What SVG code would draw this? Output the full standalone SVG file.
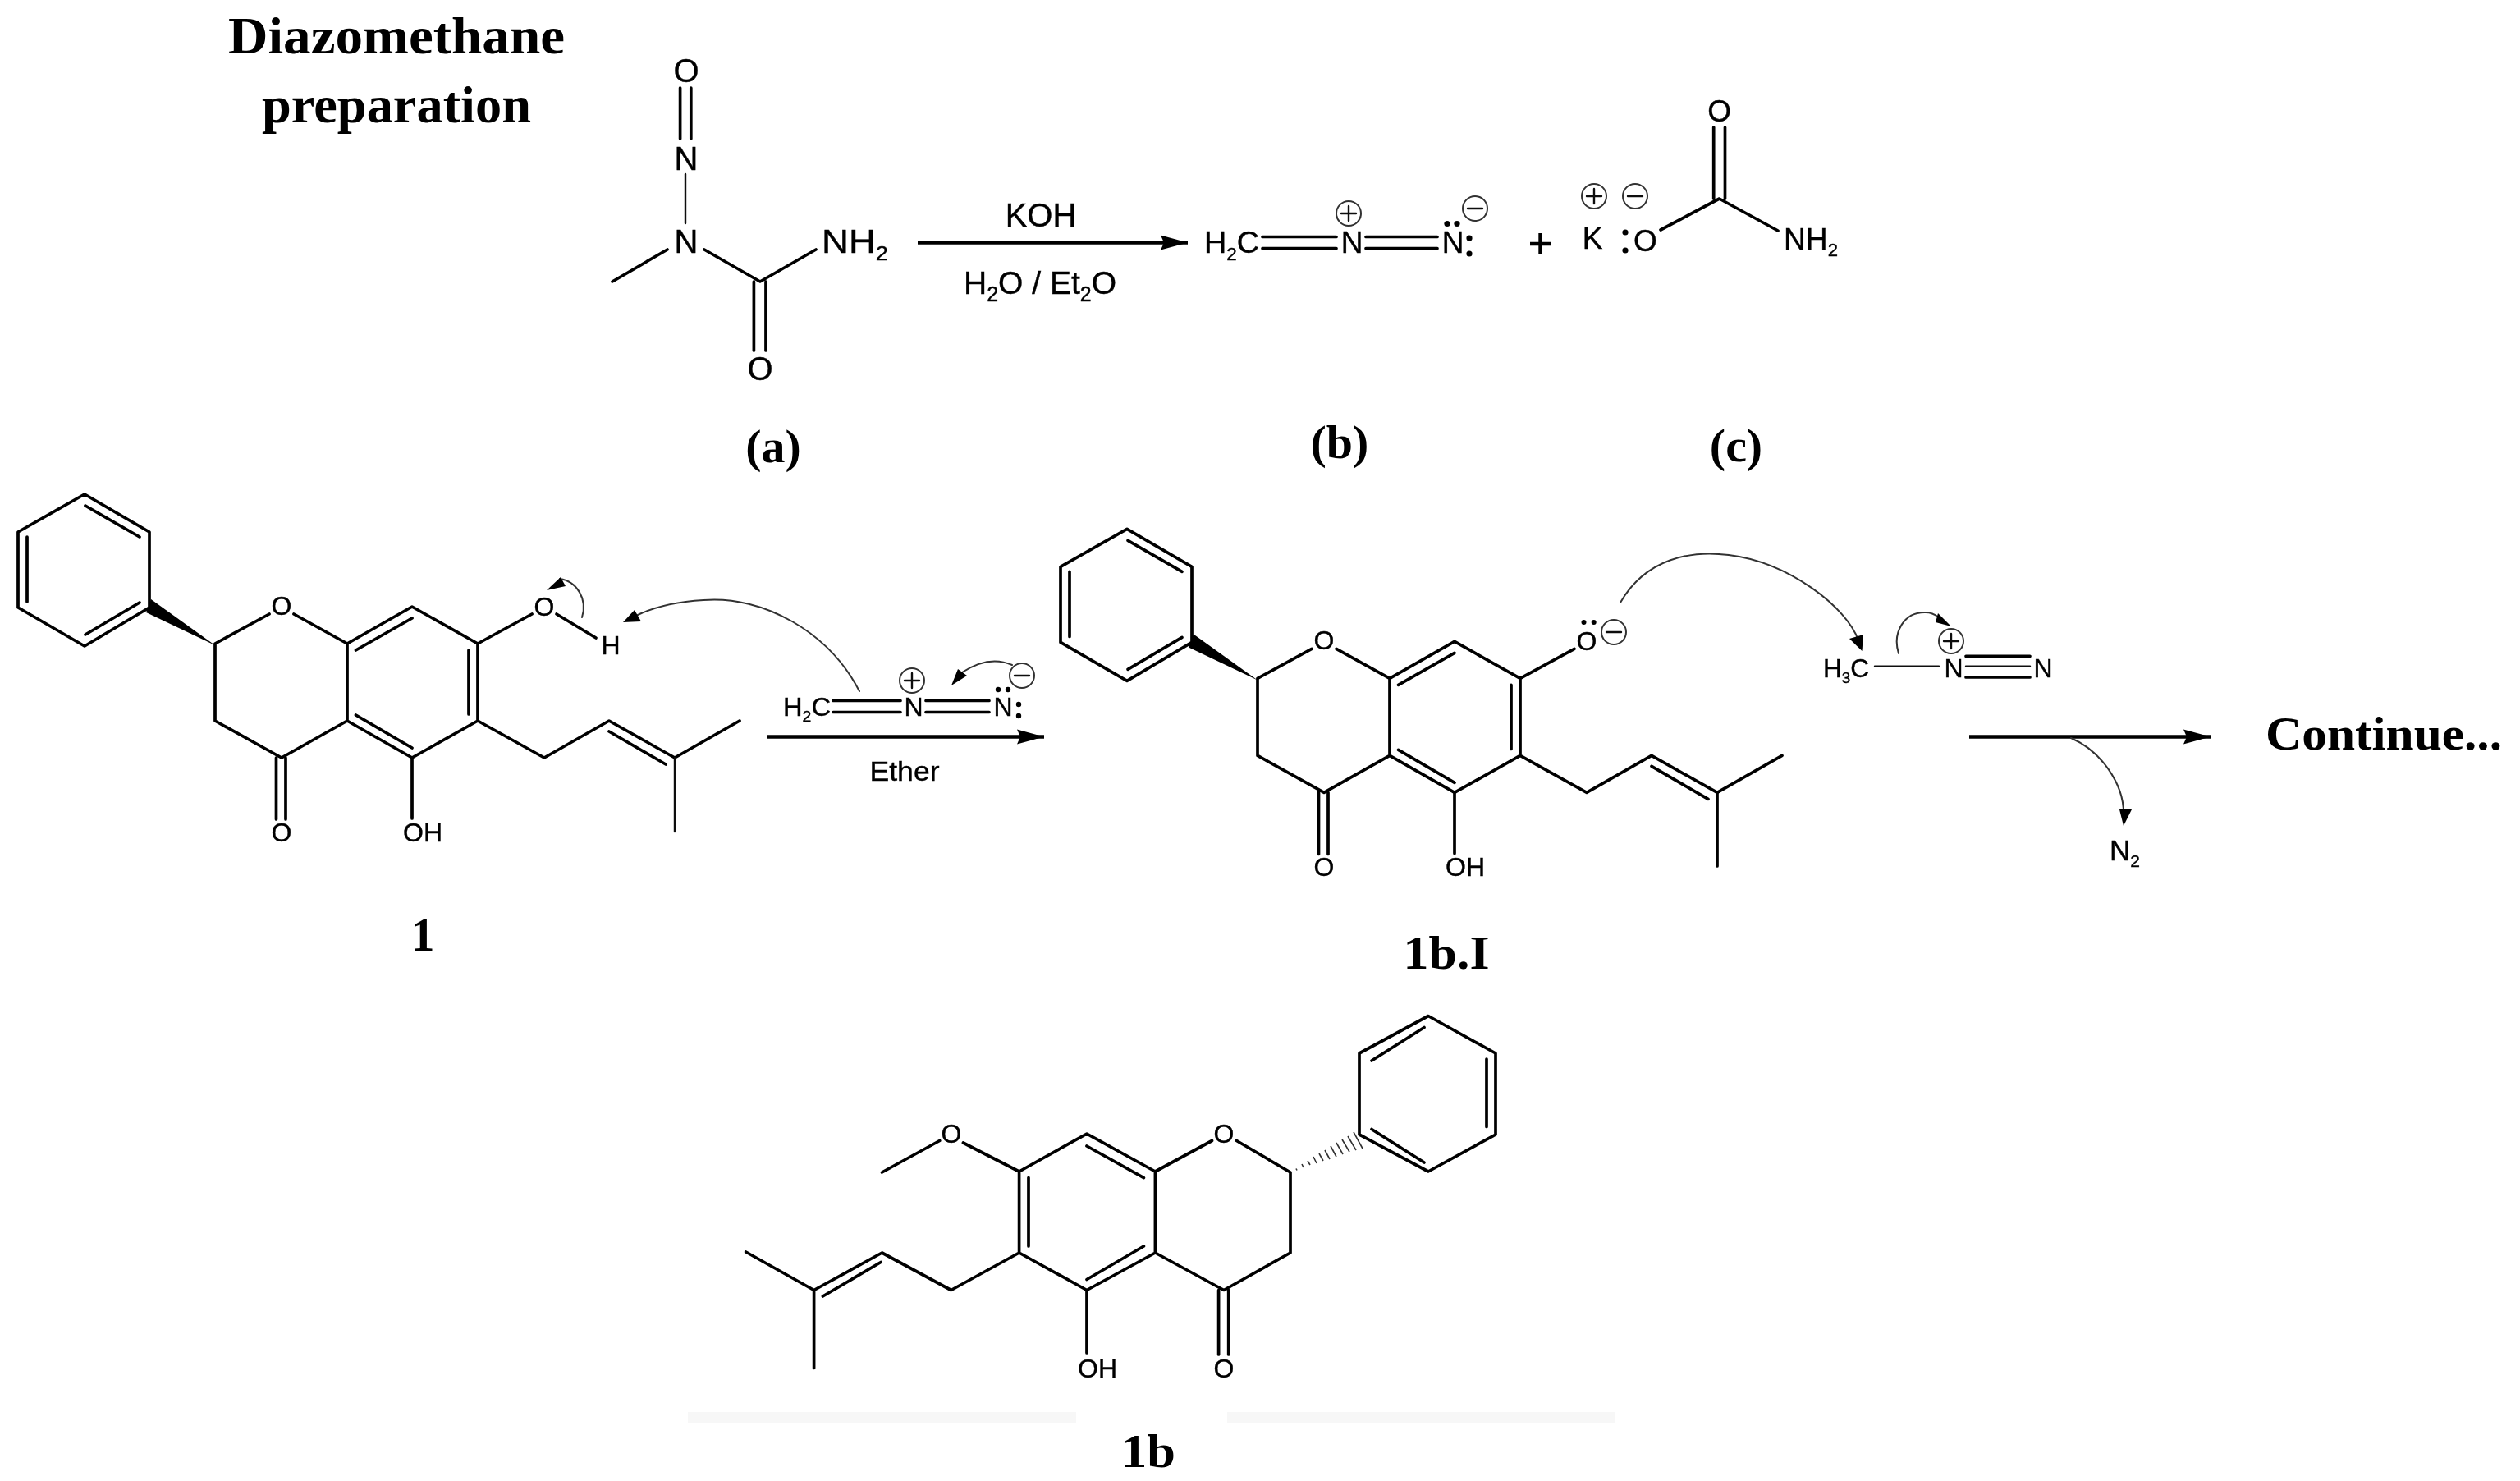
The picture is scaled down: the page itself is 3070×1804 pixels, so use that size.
<svg xmlns="http://www.w3.org/2000/svg" xmlns:xlink="http://www.w3.org/1999/xlink" width="3070" height="1804" viewBox="0 0 3070 1804">
<style>
.b{fill:none;stroke:#000;stroke-width:3.7;stroke-linecap:round;stroke-linejoin:round}
.m{fill:none;stroke:#111;stroke-width:2.4;stroke-linecap:round}
.c{fill:none;stroke:#333;stroke-width:2;stroke-linecap:round}
.r{fill:none;stroke:#000;stroke-width:4.4}
.q{fill:#fff;stroke:#333;stroke-width:2}
.d{fill:#000}
.x{fill:none;stroke:#333;stroke-width:1.6}
text{font-family:"Liberation Sans",Arial,sans-serif;fill:#000;stroke:#000;stroke-width:.4}
.l{font-size:40px}.s{font-size:32px}.o{font-size:37px}
.h{font-family:"Liberation Serif","Times New Roman",serif;font-weight:bold;font-size:58px;stroke:none}
</style>
<defs>
<filter id="soft" filterUnits="userSpaceOnUse" x="0" y="0" width="3070" height="1804"><feGaussianBlur stdDeviation="0.6"/></filter>
<marker id="ah" markerUnits="userSpaceOnUse" markerWidth="36" markerHeight="24" refX="33" refY="12" orient="auto" viewBox="0 0 36 24"><path d="M0,3 L33,12 L0,21 L4,12 Z" fill="#000"/></marker>
<g id="flav">
<path class="b" d="M103,602 L182,648 L182,740 L103,787 L22,740 L22,648 Z M104,616 L170,654 M33,654 V733 M104,773 L170,734"/>
<path class="b" d="M262,784 L328,748 M358,748 L423,784 L502,739 L582,784 L582,878 L502,923 L423,878 L343,923 L262,878 L262,784 M423,784 V878 M433.5,792 L502,753 M571,792 V870 M433.5,871 L502,911 M336.5,923 V998 M348,923 V998 M502,923 V997 M582,784 L648,748 M582,878 L663,923 L742,878 L822,923 L901,878 M742,891 L811,931"/>
<polygon class="d" points="262,786 184,730 178,746"/>
</g>
<g id="plus"><circle class="q" r="15"/><path class="m" d="M-9,0 H9 M0,-9 V9"/></g>
<g id="minus"><circle class="q" r="15"/><path class="m" d="M-9,0 H9"/></g>
</defs>
<rect width="3070" height="1804" fill="#fff"/>
<g id="strips" fill="#f7f7f7"><rect x="838" y="1720" width="473" height="13"/><rect x="1495" y="1720" width="472" height="13"/></g>
<g filter="url(#soft)">
<g id="title"><text class="h" x="278" y="65" style="font-size:64px" textLength="410" lengthAdjust="spacingAndGlyphs">Diazomethane</text><text class="h" x="319" y="149" style="font-size:64px" textLength="328" lengthAdjust="spacingAndGlyphs">preparation</text></g>

<g id="reagent-a">
<path class="b" d="M828.6,107 V169 M841.8,107 V169 M746,343 L813,304 M858,304 L926,343 L994,304 M918.4,343 V427 M933,343 V427"/>
<path class="m" d="M835,212 V272"/>
<text class="l" x="836" y="100" text-anchor="middle">O</text>
<text class="l" x="836" y="207" text-anchor="middle">N</text>
<text class="l" x="836" y="308" text-anchor="middle">N</text>
<text class="l" x="926" y="463" text-anchor="middle">O</text>
<text class="l" x="1001" y="308" textLength="81" lengthAdjust="spacingAndGlyphs">NH<tspan font-size="24" dy="9">2</tspan></text>
<text class="h" x="942" y="563" text-anchor="middle">(a)</text>
</g>

<g id="conditions-top">
<text class="l" x="1268" y="276" text-anchor="middle">KOH</text>
<text style="font-size:39px" x="1267" y="358" text-anchor="middle">H<tspan font-size="25" dy="9">2</tspan><tspan dy="-9">O / Et</tspan><tspan font-size="25" dy="9">2</tspan><tspan dy="-9">O</tspan></text>
</g>

<g id="diazomethane-b">
<path class="b" d="M1538,288.5 H1628 M1538,302.5 H1628 M1664,288.5 H1751 M1664,302.5 H1751"/>
<text class="o" x="1467" y="308" textLength="67" lengthAdjust="spacingAndGlyphs">H<tspan font-size="22" dy="9">2</tspan><tspan dy="-9">C</tspan></text>
<text class="o" x="1647" y="308" text-anchor="middle">N</text>
<text class="o" x="1770" y="308" text-anchor="middle">N</text>
<use xlink:href="#plus" href="#plus" x="1643" y="260"/><use xlink:href="#minus" href="#minus" x="1797" y="254"/>
<circle class="d" cx="1763" cy="272.5" r="3.6"/><circle class="d" cx="1775" cy="272.5" r="3.6"/><circle class="d" cx="1790" cy="290" r="3.6"/><circle class="d" cx="1790" cy="309" r="3.6"/>
<text class="h" x="1632" y="558" text-anchor="middle">(b)</text>
</g>

<g id="plus-sign"><path class="r" d="M1864,297 H1889 M1876.5,284 V310"/></g>

<g id="carbamate-c">
<path class="b" d="M2023,280 L2094.6,242 L2166,281 M2087.7,242 V155 M2101.5,242 V155"/>
<text class="o" x="1940" y="303" text-anchor="middle">K</text>
<use xlink:href="#plus" href="#plus" x="1942" y="239"/><use xlink:href="#minus" href="#minus" x="1992" y="239"/>
<circle class="d" cx="1980" cy="283" r="3.6"/><circle class="d" cx="1980" cy="305" r="3.6"/>
<text class="o" x="2004.5" y="306" text-anchor="middle">O</text>
<text class="o" x="2094.6" y="148" text-anchor="middle">O</text>
<text class="o" x="2173" y="304" textLength="66" lengthAdjust="spacingAndGlyphs">NH<tspan font-size="22" dy="8">2</tspan></text>
<text class="h" x="2115" y="562" text-anchor="middle">(c)</text>
</g>

<g id="compound-1">
<use xlink:href="#flav" href="#flav"/>
<path class="m" d="M822,923 V1013"/>
<path class="b" d="M678,748 L726,777"/>
<text class="s" x="343" y="749" text-anchor="middle">O</text>
<text class="s" x="663" y="750" text-anchor="middle">O</text>
<text class="s" x="744" y="797" text-anchor="middle">H</text>
<text class="s" x="343" y="1025" text-anchor="middle">O</text>
<text class="s" x="515" y="1025" text-anchor="middle">OH</text>
<text class="h" x="515" y="1158" text-anchor="middle">1</text>
</g>

<g id="reagent-diazomethane">
<path class="b" d="M1015,853.5 H1097 M1015,867.5 H1097 M1128,853.5 H1205 M1128,867.5 H1205"/>
<text class="s" x="954" y="872" textLength="58" lengthAdjust="spacingAndGlyphs">H<tspan font-size="19" dy="7">2</tspan><tspan dy="-7">C</tspan></text>
<text class="s" x="1113" y="872" text-anchor="middle">N</text>
<text class="s" x="1222" y="872" text-anchor="middle">N</text>
<use xlink:href="#plus" href="#plus" x="1111" y="829"/><use xlink:href="#minus" href="#minus" x="1245" y="823"/>
<circle class="d" cx="1216" cy="840" r="3.2"/><circle class="d" cx="1228" cy="840" r="3.2"/><circle class="d" cx="1241" cy="858" r="3.2"/><circle class="d" cx="1241" cy="872" r="3.2"/>
<text x="1102" y="951" style="font-size:34px" text-anchor="middle" textLength="85" lengthAdjust="spacingAndGlyphs">Ether</text>
</g>

<g id="compound-1b-I">
<use xlink:href="#flav" href="#flav" x="1270" y="42.4"/>
<path class="b" d="M2092,965.4 V1055"/>
<text class="s" x="1613" y="791" text-anchor="middle">O</text>
<text class="s" x="1933" y="792" text-anchor="middle">O</text>
<circle class="d" cx="1929.5" cy="758" r="3"/><circle class="d" cx="1941.7" cy="758" r="3"/>
<use xlink:href="#minus" href="#minus" x="1966" y="770"/>
<text class="s" x="1613" y="1067" text-anchor="middle">O</text>
<text class="s" x="1785" y="1067" text-anchor="middle">OH</text>
<text class="h" x="1762" y="1180" text-anchor="middle" textLength="105" lengthAdjust="spacingAndGlyphs">1b.I</text>
</g>

<g id="methyldiazonium">
<path class="m" d="M2284,811.7 H2362 M2395,811.7 H2473"/>
<path class="b" d="M2395,799.3 H2473 M2395,825 H2473"/>
<text class="s" x="2221" y="825" textLength="56" lengthAdjust="spacingAndGlyphs">H<tspan font-size="19" dy="7">3</tspan><tspan dy="-7">C</tspan></text>
<text class="s" x="2380" y="825" text-anchor="middle">N</text>
<text class="s" x="2489" y="825" text-anchor="middle">N</text>
<use xlink:href="#plus" href="#plus" x="2377" y="781"/>
</g>

<g id="nitrogen"><text x="2570" y="1048" style="font-size:35px">N<tspan font-size="21" dy="8">2</tspan></text></g>

<g id="continue"><text class="h" x="2760" y="913" textLength="288" lengthAdjust="spacingAndGlyphs">Continue...</text></g>

<g id="compound-1b">
<path class="b" d="M1740,1237.5 L1822,1283 L1822,1382 L1740,1427 L1656,1382 L1656,1283 Z M1671,1292 L1735,1251.5 M1811,1290 V1372.5 M1671,1375.5 L1735,1416"/>
<path class="b" d="M1572,1428 L1506.5,1389.5 M1476.5,1389.5 L1407.4,1427 L1324,1381 L1241.6,1427 L1241.6,1526 L1324,1571.5 L1407.4,1526 L1491,1571.5 L1572,1526 L1572,1428 M1407.4,1427 V1526 M1324,1396 L1393.4,1434.6 M1253,1434.6 V1518 M1393.4,1518 L1324,1558.5 M1484.6,1571.5 V1650 M1496.7,1571.5 V1650 M1324,1571.5 V1648 M1241.6,1427 L1173.4,1392 M1144.7,1389.5 L1074.5,1428 M1241.6,1526 L1158.7,1571.5 L1074.5,1526 L991.6,1571.5 L908.7,1525 M991.6,1571.5 V1666.5 M1002.4,1579 L1073,1537.5"/>
<path class="x" d="M1579,1423.5 L1580,1425.5 M1586,1418 L1588,1422 M1593,1414 L1596,1419 M1600,1409 L1604,1417 M1607,1405 L1612,1414 M1614,1401 L1620,1412 M1621,1396 L1628,1409 M1628,1392 L1636,1406 M1635,1388 L1644,1403 M1642,1384 L1652,1401 M1649,1379 L1660,1399"/>
<text class="s" x="1159" y="1392" text-anchor="middle">O</text>
<text class="s" x="1491" y="1392" text-anchor="middle">O</text>
<text class="s" x="1491" y="1678" text-anchor="middle">O</text>
<text class="s" x="1337" y="1678" text-anchor="middle">OH</text>
<text class="h" x="1399" y="1787" text-anchor="middle" textLength="66" lengthAdjust="spacingAndGlyphs">1b</text>
</g>

<g id="connectors">
<path class="r" d="M1118,295.5 H1447" marker-end="url(#ah)"/>
<path class="r" d="M935,897.5 H1272" marker-end="url(#ah)"/>
<path class="r" d="M2399,897.5 H2693" marker-end="url(#ah)"/>
<path class="c" d="M709,752 C716,730 703,708 682,705"/><polygon class="d" points="666,719 683,703 689,714"/>
<path class="c" d="M1047,842 C1010,770 930,725 857,731 C825,733 795,740 775,750"/><polygon class="d" points="759,758 773,743 781,757"/>
<path class="c" d="M1233,810 C1215,802 1195,804 1172,819"/><polygon class="d" points="1159,835 1167,815 1178,823"/>
<path class="c" d="M1974,734 C2005,680 2060,670 2106,676 C2180,685 2250,740 2264,780"/><polygon class="d" points="2268.5,793 2253,778 2270,773"/>
<path class="c" d="M2313,796 C2305,770 2320,745 2346,746 C2353,746 2358,749 2362,752"/><polygon class="d" points="2377,763 2361,747 2358,758"/>
<path class="c" d="M2523,899 C2560,915 2587,955 2587,990"/><polygon class="d" points="2587,1006 2582,986 2597,986"/>
</g>
</g>
</svg>
